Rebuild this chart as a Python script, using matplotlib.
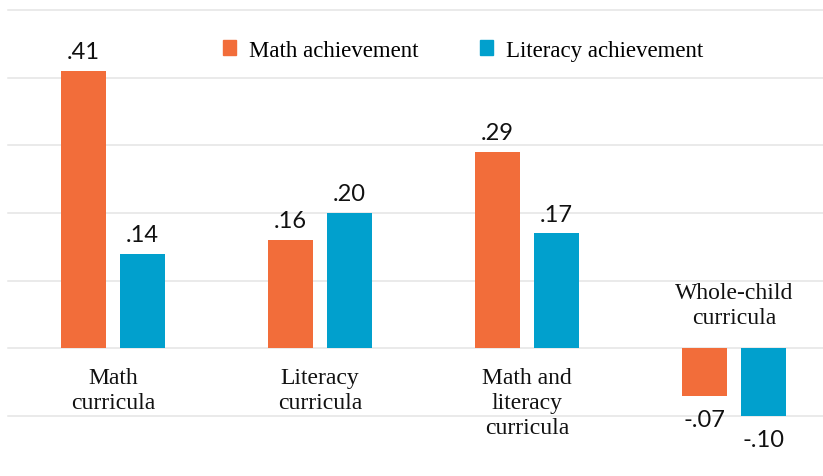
import numpy as np
import matplotlib.pyplot as plt
from matplotlib.patches import Patch

# data
categories = ["Math\ncurricula", "Literacy\ncurricula", "Math and\nliteracy\ncurricula", "Whole-child\ncurricula"]
math_vals = [0.41, 0.16, 0.29, -0.07]
literacy_vals = [0.14, 0.20, 0.17, -0.10]
series_names = ["Math achievement", "Literacy achievement"]

orange = "#F26D3A"
blue = "#01A0CD"
grid_color = "#E4E4E4"
serif = ["Liberation Serif", "DejaVu Serif"]
sans = ["Lato", "DejaVu Sans"]

def fmt(v):
    s = f"{v:.2f}"
    return s.replace("0.", ".")

fig = plt.figure(figsize=(8.23, 4.77), dpi=100)
ax = fig.add_axes([8 / 823, 60 / 477, 815 / 823, 406 / 477])
ax.set_xlim(-0.507, 3.43)
ax.set_ylim(-0.1, 0.5)
ax.axis("off")

for g in np.arange(-0.1, 0.51, 0.1):
    ax.axhline(g, color=grid_color, lw=1.1, zorder=0, clip_on=False)

x = np.arange(len(categories))
w = 0.218
off = 0.1425
ax.bar(x - off, math_vals, w, color=orange, zorder=2)
ax.bar(x + off, literacy_vals, w, color=blue, zorder=2)

for xs, vals in [(x - off, math_vals), (x + off, literacy_vals)]:
    for xi, v in zip(xs, vals):
        if v >= 0:
            ax.text(xi, v + 0.013, fmt(v), ha="center", va="bottom",
                    fontsize=17, family=sans, color="#111111")
        else:
            ax.text(xi, v - 0.019, fmt(v), ha="center", va="top",
                    fontsize=17, family=sans, color="#111111")

for i, lab in enumerate(categories):
    if math_vals[i] >= 0:
        ax.text(x[i], -0.027, lab, ha="center", va="top", fontsize=17,
                family=serif, linespacing=1.25, color="#111111")
    else:
        ax.text(x[i], 0.030, lab, ha="center", va="bottom", fontsize=17,
                family=serif, linespacing=1.25, color="#111111")

handles = [Patch(color=orange), Patch(color=blue)]
leg = ax.legend(handles, series_names, ncol=2, frameon=False,
                loc="center", bbox_to_anchor=((463 - 8) / 815, 1 - 40 / 406),
                handlelength=0.58, handleheight=0.58, handletextpad=0.55,
                columnspacing=2.7, prop={"family": serif, "size": 16.5})

fig.savefig("out.png", dpi=100)
